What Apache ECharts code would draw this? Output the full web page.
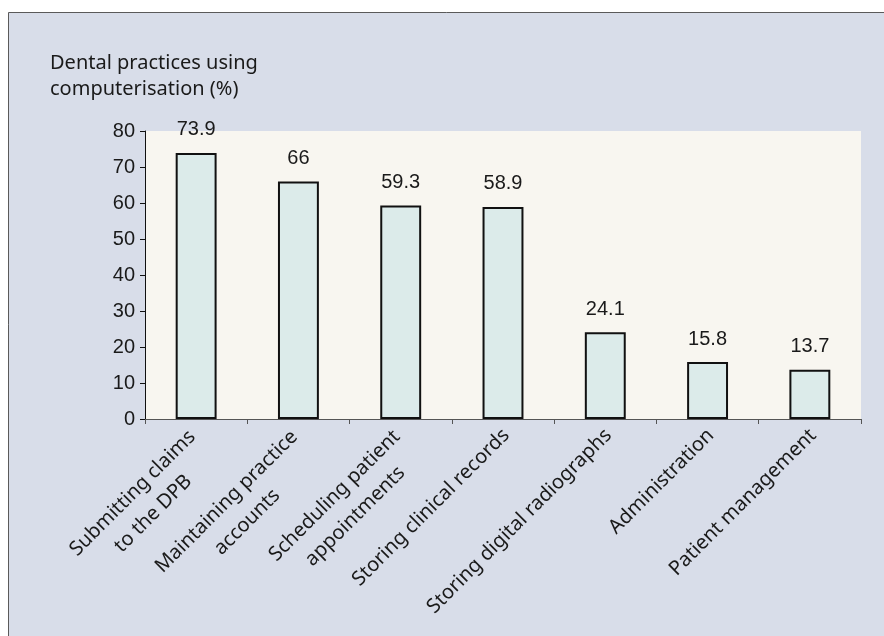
<!DOCTYPE html>
<html>
<head>
<meta charset="utf-8">
<script src="https://cdn.jsdelivr.net/npm/echarts@6/dist/echarts.min.js"></script>
<style>
html,body{margin:0;padding:0;background:#fff;}
#c{width:884px;height:636px;}
</style>
</head>
<body>
<div id="c"></div>
<script>
var categories = [
  "Submitting claims\nto the DPB",
  "Maintaining practice\naccounts",
  "Scheduling patient\nappointments",
  "Storing clinical records",
  "Storing digital radiographs",
  "Administration",
  "Patient management"
];
var values = [73.9, 66, 59.3, 58.9, 24.1, 15.8, 13.7];
var valueLabels = ["73.9", "66", "59.3", "58.9", "24.1", "15.8", "13.7"];
var yTicks = { min: 0, max: 80, interval: 10 };
var titleLines = ["Dental practices using", "computerisation (%)"];

var xData = categories.map(function (c) {
  var multi = c.indexOf('\n') >= 0;
  return {
    value: c,
    textStyle: {
      verticalAlign: 'top',
      align: 'right',
      padding: multi ? [-9, 11, 0, 0] : [-5, 5, 0, 0]
    }
  };
});

var chart = echarts.init(document.getElementById('c'), null, {renderer: 'canvas'});
var option = {
  animation: false,
  graphic: [
    {
      type: 'rect', z: -10, silent: true,
      shape: {x: 8.5, y: 12.5, width: 900, height: 700},
      style: {fill: '#d8dde9', stroke: '#5a5a5a', lineWidth: 1}
    },
    {
      type: 'text', left: 50, top: 50, z: 10,
      style: {
        text: titleLines.join('\n'),
        font: '20px "Noto Sans"',
        fill: '#1a1a1a',
        lineHeight: 26
      }
    }
  ],
  grid: {
    left: 145, right: 23, top: 131, bottom: 217,
    show: true, backgroundColor: '#f8f6f0', borderWidth: 0
  },
  xAxis: {
    type: 'category',
    data: xData,
    axisLine: {lineStyle: {color: '#555', width: 1}},
    axisTick: {show: true, length: 5, lineStyle: {color: '#555'}},
    axisLabel: {
      rotate: 45,
      margin: 3,
      interval: 0,
      verticalAlign: 'top',
      formatter: function (v) {
        return v.split('\n').map(function (s) { return '{a|' + s + '}'; }).join('\n');
      },
      rich: {
        a: {
          align: 'center',
          fontFamily: 'Noto Sans',
          fontSize: 20,
          color: '#1a1a1a',
          lineHeight: 29
        }
      }
    }
  },
  yAxis: {
    type: 'value',
    min: yTicks.min, max: yTicks.max, interval: yTicks.interval,
    splitLine: {show: false},
    axisLine: {show: true, lineStyle: {color: '#111', width: 1}},
    axisTick: {show: true, length: 5, lineStyle: {color: '#111'}},
    axisLabel: {
      margin: 10,
      fontFamily: 'Liberation Sans',
      fontSize: 20,
      color: '#1a1a1a'
    }
  },
  series: [{
    type: 'bar',
    data: values,
    barWidth: '40%',
    itemStyle: {color: '#dcebea', borderColor: '#111', borderWidth: 2},
    label: {
      show: true,
      position: 'top',
      distance: 13,
      fontFamily: 'Liberation Sans',
      fontSize: 20,
      color: '#1a1a1a',
      formatter: function (p) { return valueLabels[p.dataIndex]; }
    }
  }]
};
chart.setOption(option);
</script>
</body>
</html>
